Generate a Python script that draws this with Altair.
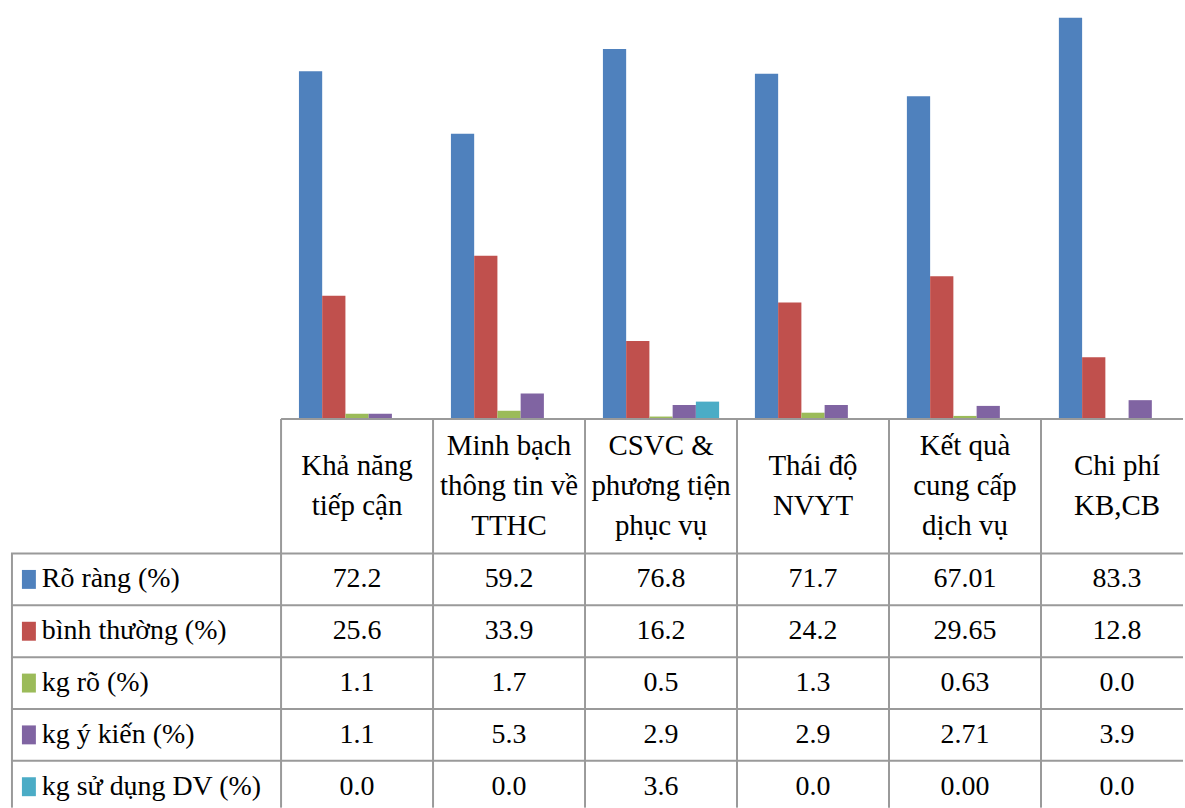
import altair as alt
import pandas as pd

# ---------------- data ----------------
categories = [
    "Khả năng tiếp cận",
    "Minh bạch thông tin về TTHC",
    "CSVC & phương tiện phục vụ",
    "Thái độ NVYT",
    "Kết quà cung cấp dịch vụ",
    "Chi phí KB,CB",
]
header_lines = [
    ["Khả năng", "tiếp cận"],
    ["Minh bạch", "thông tin về", "TTHC"],
    ["CSVC &", "phương tiện", "phục vụ"],
    ["Thái độ", "NVYT"],
    ["Kết quà", "cung cấp", "dịch vụ"],
    ["Chi phí", "KB,CB"],
]
series = ["Rõ ràng (%)", "bình thường (%)", "kg rõ (%)", "kg ý kiến (%)", "kg sử dụng DV (%)"]

ro_rang = [72.2, 59.2, 76.8, 71.7, 67.01, 83.3]
binh_thuong = [25.6, 33.9, 16.2, 24.2, 29.65, 12.8]
kg_ro = [1.1, 1.7, 0.5, 1.3, 0.63, 0.0]
kg_y_kien = [1.1, 5.3, 2.9, 2.9, 2.71, 3.9]
kg_su_dung = [0.0, 0.0, 3.6, 0.0, 0.00, 0.0]
decimals = [1, 1, 1, 1, 2, 1]

colors = ["#4F81BD", "#C0504D", "#9BBB59", "#8064A2", "#4BACC6"]

# ---------------- tables ----------------
all_values = [ro_rang, binh_thuong, kg_ro, kg_y_kien, kg_su_dung]
rows = []
for s, vals in zip(series, all_values):
    for c, v, d in zip(categories, vals, decimals):
        rows.append({"series": s, "category": c, "value": v, "text": f"{v:.{d}f}"})
df = pd.DataFrame(rows)

hrows = []
for c, lines in zip(categories, header_lines):
    n = len(lines)
    for i, line in enumerate(lines):
        hrows.append({"category": c, "line": line, "pos": (n - 1) / 2 - i})
head_df = pd.DataFrame(hrows)
cat_df = pd.DataFrame({"category": categories})
ser_df = pd.DataFrame({"series": series})
one_df = pd.DataFrame({"k": [0]})

# ---------------- style ----------------
FONT = "Liberation Serif"
GRID = "#9a9a9a"
LW = 2
LEFT_W = 271
RIGHT_W = 905          # visible part of the table
TABLE_W = 915          # six columns of 152.5 px, last one runs past the edge
BAR_H = 418
HEAD_H = 135
ROWS_H = 255
LINE_H = 40

x_scale = alt.Scale(domain=categories, paddingInner=0, paddingOuter=0, range=[0, TABLE_W])
y_rows = alt.Scale(domain=series, paddingInner=0, paddingOuter=0, range=[0, 260])
color_scale = alt.Scale(domain=series, range=colors)

# ---------------- bars ----------------
bars = alt.Chart(df).mark_bar().encode(
    x=alt.X("category:N", sort=categories, scale=x_scale, axis=None),
    xOffset=alt.XOffset("series:N", sort=series,
                        scale=alt.Scale(domain=series, paddingInner=0, paddingOuter=0.77)),
    y=alt.Y("value:Q", scale=alt.Scale(domain=[0, 86.5], nice=False, zero=True), axis=None),
    color=alt.Color("series:N", scale=color_scale, legend=None),
).properties(width=RIGHT_W, height=BAR_H)

# ---------------- header row ----------------
half = HEAD_H / 2 / LINE_H
header_text = alt.Chart(head_df).mark_text(
    font=FONT, fontSize=29, align="center", baseline="middle", color="black",
).encode(
    x=alt.X("category:N", sort=categories, scale=x_scale, axis=None),
    y=alt.Y("pos:Q", scale=alt.Scale(domain=[-half, half], nice=False, zero=False), axis=None),
    text="line:N",
)
header_vrules = alt.Chart(cat_df).mark_rule(color=GRID, strokeWidth=LW).encode(
    x=alt.X("category:N", sort=categories, scale=x_scale, axis=None, bandPosition=0),
)
header_top = alt.Chart(one_df).mark_rule(color=GRID, strokeWidth=LW).encode(
    y=alt.value(0),
)
header = alt.layer(header_vrules, header_top, header_text).properties(
    width=RIGHT_W, height=HEAD_H)

# ---------------- value cells ----------------
cell_text = alt.Chart(df).mark_text(
    font=FONT, fontSize=28, align="center", baseline="middle", color="black",
).encode(
    x=alt.X("category:N", sort=categories, scale=x_scale, axis=None),
    y=alt.Y("series:N", sort=series, scale=y_rows, axis=None),
    text="text:N",
)
cell_vrules = alt.Chart(cat_df).mark_rule(color=GRID, strokeWidth=LW).encode(
    x=alt.X("category:N", sort=categories, scale=x_scale, axis=None, bandPosition=0),
)
cell_hrules = alt.Chart(ser_df).mark_rule(color=GRID, strokeWidth=LW).encode(
    y=alt.Y("series:N", sort=series, scale=y_rows, axis=None, bandPosition=0),
)
cells = alt.layer(cell_vrules, cell_hrules, cell_text).properties(
    width=RIGHT_W, height=ROWS_H)

# ---------------- legend column ----------------
lab_text = alt.Chart(ser_df).mark_text(
    font=FONT, fontSize=28, align="left", baseline="middle", color="black",
).encode(
    x=alt.value(31),
    y=alt.Y("series:N", sort=series, scale=y_rows, axis=None),
    text="series:N",
)
lab_sq = alt.Chart(ser_df).mark_point(
    shape="M-0.737,-1H0.737V1H-0.737Z", filled=True, opacity=1, size=361, strokeWidth=0,
).encode(
    x=alt.value(18),
    y=alt.Y("series:N", sort=series, scale=y_rows, axis=None),
    color=alt.Color("series:N", scale=color_scale, legend=None),
)
lab_hrules = alt.Chart(ser_df).mark_rule(color=GRID, strokeWidth=LW).encode(
    y=alt.Y("series:N", sort=series, scale=y_rows, axis=None, bandPosition=0),
)
lab_left = alt.Chart(one_df).mark_rule(color=GRID, strokeWidth=LW).encode(
    x=alt.value(1),
)
labels = alt.layer(lab_hrules, lab_left, lab_sq, lab_text).properties(
    width=LEFT_W, height=ROWS_H)


def blank(h):
    return alt.Chart(one_df).mark_point(opacity=0, size=1).encode(
        x=alt.value(LEFT_W / 2), y=alt.value(h / 2)
    ).properties(width=LEFT_W, height=h)


chart = alt.concat(
    blank(BAR_H), bars,
    blank(HEAD_H), header,
    labels, cells,
    columns=2, spacing=0, bounds="flush",
).resolve_scale(
    x="independent", y="independent"
).properties(
    padding={"left": 9, "top": 0, "right": 0, "bottom": 0},
    background="white",
).configure(font=FONT).configure_view(stroke="transparent").configure_legend(disable=True)

chart.save("out.html", embed_options={"renderer": "svg", "actions": False})
